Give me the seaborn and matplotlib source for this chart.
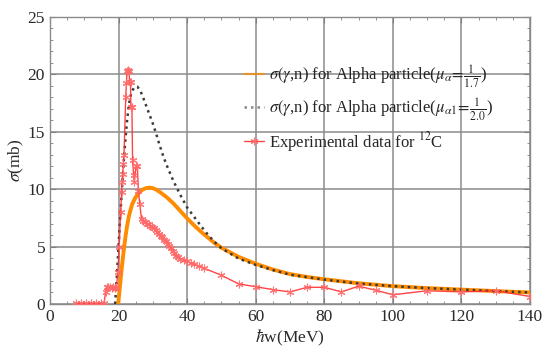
import matplotlib
matplotlib.use("Agg")
import matplotlib.pyplot as plt
from matplotlib.ticker import MultipleLocator
import seaborn as sns

# orange curve, mu_alpha = 1/1.7
orange_x = [19.9, 20.5, 21.0, 21.5, 22.0, 22.5, 23.0, 23.5, 24.0, 25.0, 26.0, 27.0, 28.0, 29.0, 30.0,
            31.0, 32.0, 34.0, 36.0, 38.0, 40.0, 42.0, 44.0, 46.0, 48.0, 50.0, 55.0, 60.0, 65.0, 70.0,
            75.0, 80.0, 90.0, 100.0, 110.0, 120.0, 130.0, 140.0]
orange_y = [0.0, 1.8, 3.3, 4.6, 5.8, 6.8, 7.6, 8.2, 8.7, 9.3, 9.7, 9.95, 10.08, 10.12, 10.08,
            9.95, 9.75, 9.3, 8.75, 8.1, 7.45, 6.85, 6.3, 5.8, 5.3, 4.9, 4.1, 3.5, 3.0, 2.6,
            2.35, 2.15, 1.8, 1.55, 1.38, 1.25, 1.12, 1.0]

# dotted curve, mu_alpha1 = 1/2.0
dot_x = [19.0, 19.5, 20.0, 20.5, 21.0, 21.5, 22.0, 22.5, 23.0, 23.5, 24.0, 24.5, 25.0, 25.5, 26.0,
         26.5, 27.0, 28.0, 29.0, 30.0, 31.0, 32.0, 33.0, 34.0, 35.0, 36.0, 37.0, 38.0, 39.0, 40.0,
         42.0, 44.0, 46.0, 48.0, 50.0, 55.0, 60.0, 65.0, 70.0, 80.0, 90.0, 100.0, 110.0, 120.0,
         130.0, 140.0]
dot_y = [0.0, 2.3, 5.0, 7.6, 10.0, 12.3, 14.3, 16.0, 17.3, 18.1, 18.55, 18.8, 18.9, 18.9, 18.7,
         18.45, 18.1, 17.3, 16.5, 15.7, 14.8, 13.8, 12.9, 12.1, 11.4, 10.7, 10.1, 9.5, 8.95, 8.4,
         7.6, 6.8, 6.05, 5.4, 4.85, 3.95, 3.4, 2.95, 2.55, 2.12, 1.78, 1.55, 1.38, 1.25,
         1.12, 1.0]

# experimental data for 12C
exp_x = [7.5, 9.0, 10.5, 12.0, 13.5, 15.0, 15.8, 16.2, 16.5, 17.0, 17.5, 18.0, 18.5, 19.0, 19.4,
         19.8, 20.2, 20.6, 20.9, 21.0, 21.2, 21.4, 21.6, 22.1, 22.3, 22.5, 22.8, 23.1, 23.2, 23.5,
         23.6, 23.9, 24.1, 24.4, 24.6, 25.1, 25.5, 25.8, 26.2, 26.7, 27.2, 27.8, 28.3, 28.8, 29.3,
         29.8, 30.3, 30.8, 31.3, 31.8, 32.3, 32.8, 33.3, 33.8, 34.3, 34.8, 35.3, 35.8, 36.3, 36.8,
         37.3, 38.0, 39.0, 40.0, 41.0, 42.0, 43.5, 45.0, 50.0, 55.0, 60.0, 65.0, 70.0, 75.0,
         80.0, 85.0, 90.0, 95.0, 100.0, 110.0, 120.0, 130.0, 140.0]
exp_y = [0.05, 0.05, 0.05, 0.05, 0.05, 0.05, 0.1, 1.0, 1.5, 1.45, 1.5, 1.4, 1.45, 1.4, 1.5,
         2.8, 5.0, 8.0, 9.7, 10.6, 11.3, 12.2, 13.0, 18.0, 19.2, 20.3, 20.4, 20.3, 19.3, 19.3,
         17.1, 17.1, 12.5, 11.2, 10.6, 12.0, 12.0, 9.8, 8.7, 7.4, 7.2, 7.1, 7.0, 6.95, 6.8,
         6.7, 6.6, 6.4, 6.25, 6.1, 5.95, 5.8, 5.6, 5.45, 5.25, 5.05, 4.85, 4.6, 4.4, 4.2,
         4.05, 3.95, 3.8, 3.7, 3.55, 3.45, 3.3, 3.1, 2.5, 1.75, 1.5, 1.25, 1.05, 1.45,
         1.45, 1.05, 1.55, 1.2, 0.8, 1.15, 1.05, 1.15, 0.65]

x_ticks = [0, 20, 40, 60, 80, 100, 120, 140]
y_ticks = [0, 5, 10, 15, 20, 25]

label_orange = r'$\sigma(\gamma$,n) for Alpha particle($\mu_\alpha\!=\!\frac{1}{1.7}$)'
label_dot = r'$\sigma(\gamma$,n) for Alpha particle($\mu_{\alpha 1}\!=\!\frac{1}{2.0}$)'
label_exp = r'Experimental data for $^{12}$C'


def main():
    sns.set_style('ticks')
    plt.rcParams['font.family'] = ['Liberation Serif', 'DejaVu Serif']
    plt.rcParams['mathtext.fontset'] = 'stix'

    fig = plt.figure(figsize=(5.43, 3.47), dpi=100)
    ax = fig.add_axes([0.092, 0.124, 0.884, 0.828])

    sns.lineplot(x=orange_x, y=orange_y, ax=ax, color='#ff8c00', lw=2.8,
                 label=label_orange, estimator=None, sort=False, zorder=3)
    sns.lineplot(x=dot_x, y=dot_y, ax=ax, color='#3a3a3a', lw=1.8,
                 linestyle=(0, (1.0, 1.6)), label=label_dot, estimator=None, sort=False, zorder=4)
    sns.lineplot(x=exp_x, y=exp_y, ax=ax, color='#ff3030', lw=1.0, alpha=0.9,
                 marker=(6, 2, 0), markersize=5.5, markeredgecolor='#ff6a6a', markeredgewidth=0.8,
                 label=label_exp, estimator=None, sort=False, zorder=5)

    ax.set_xlim(0, 140)
    ax.set_ylim(0, 25)
    ax.set_xticks(x_ticks)
    ax.set_yticks(y_ticks)
    ax.xaxis.set_minor_locator(MultipleLocator(5))
    ax.yaxis.set_minor_locator(MultipleLocator(1))
    ax.grid(True, which='major', color='#8c8c8c', lw=1.1)
    ax.set_axisbelow(True)
    ax.tick_params(which='both', direction='in', top=True, right=True, colors='#808080',
                   labelcolor='#2a2a2a', labelsize=12.5)
    ax.tick_params(which='major', length=4)
    ax.tick_params(which='minor', length=2.5)
    for s in ax.spines.values():
        s.set_color('#8a8a8a')
        s.set_linewidth(1.0)

    ax.set_xlabel(r'$\hbar$w(MeV)', fontsize=12.5, color='#2a2a2a', labelpad=2)
    ax.set_ylabel(r'$\sigma$(mb)', fontsize=12.5, color='#2a2a2a', labelpad=1)

    leg = ax.legend(loc='upper left', bbox_to_anchor=(0.39, 0.86), frameon=False, fontsize=12,
                    handlelength=1.2, handletextpad=0.3, labelspacing=0.4, borderaxespad=0)
    # legend handles are drawn thinner than the curves in the reference
    leg.get_lines()[0].set_linewidth(1.6)
    leg.get_lines()[0].set_alpha(0.7)
    leg.get_lines()[1].set_alpha(0.6)

    fig.savefig('out.png', dpi=100)
    plt.close('all')


if __name__ == '__main__':
    main()
